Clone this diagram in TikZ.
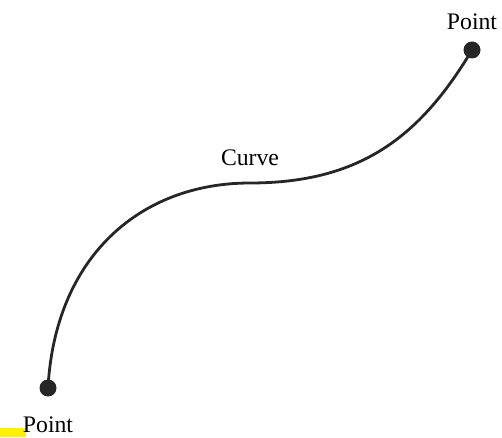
\documentclass[tikz,border=0pt]{standalone}
\usepackage{fontspec}
\setmainfont{Liberation Serif}
\usetikzlibrary{positioning}

\begin{document}
\begin{tikzpicture}[font=\fontsize{13.5}{16}\selectfont,
  dot/.style={circle, fill=black!85, inner sep=0pt, minimum size=0.34cm},
  curveline/.style={line width=0.056cm, black!85}]

  \useasboundingbox (0,0) rectangle (10.04,8.74);

  % --- Yellow mark, bottom left ---
  \fill[yellow] (0,0) rectangle (0.52,0.19);

  % --- End points ---
  \node[dot] (pA) at (0.96,0.98) {};
  \node[dot] (pB) at (9.44,7.74) {};
  \coordinate (cMid) at (5.0,5.08);

  % --- The curve ---
  \draw[curveline] (pA.center) .. controls (1.1,3.6) and (2.8,5.08) .. (cMid)
    .. controls (7.2,5.08) and (8.4,6.0) .. (pB.center);

  % --- Labels ---
  \node (lA) at (0.96,0.24) {Point};
  \node (lB) at (9.44,8.3) {Point};
  \node (lCurve) at (5.0,5.58) {Curve};

\end{tikzpicture}
\end{document}
